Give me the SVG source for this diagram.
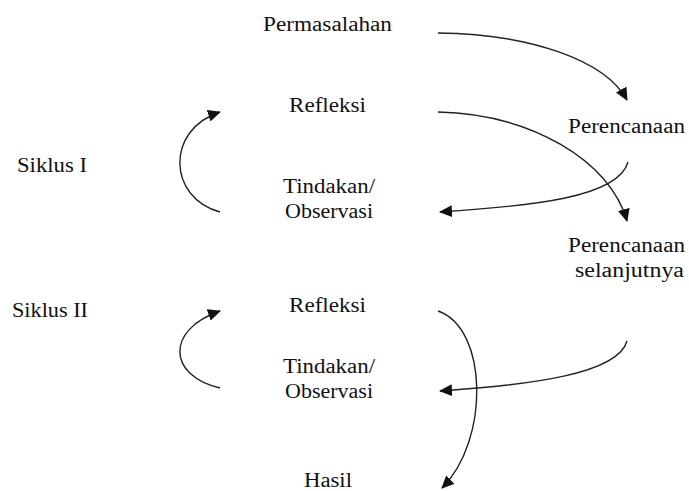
<svg xmlns="http://www.w3.org/2000/svg" width="689" height="491" viewBox="0 0 689 491">
<defs>
<marker id="ah" markerUnits="userSpaceOnUse" markerWidth="14" markerHeight="12" refX="12" refY="6" orient="auto">
<path d="M0,0 L13,6 L0,12 Z" fill="#111"/>
</marker>
<style>
.c{fill:none;stroke:#222;stroke-width:1.4;marker-end:url(#ah);}
</style>
</defs>
<rect width="689" height="491" fill="#fff"/>
<g font-family="Liberation Serif, DejaVu Serif, Times New Roman, serif" font-size="20" fill="#111">
<g id="permasalahan"><text x="263" y="31" textLength="129" lengthAdjust="spacingAndGlyphs">Permasalahan</text></g>
<g id="refleksi1"><text x="289" y="112" textLength="77" lengthAdjust="spacingAndGlyphs">Refleksi</text></g>
<g id="tindakan1"><text x="283" y="193" textLength="92" lengthAdjust="spacingAndGlyphs">Tindakan/</text><text x="285" y="218" textLength="88" lengthAdjust="spacingAndGlyphs">Observasi</text></g>
<g id="perencanaan"><text x="568" y="133" textLength="117" lengthAdjust="spacingAndGlyphs">Perencanaan</text></g>
<g id="perencanaan2"><text x="568" y="252" textLength="117" lengthAdjust="spacingAndGlyphs">Perencanaan</text><text x="575" y="277" textLength="109" lengthAdjust="spacingAndGlyphs">selanjutnya</text></g>
<g id="siklus1"><text x="17" y="172" textLength="70" lengthAdjust="spacingAndGlyphs">Siklus I</text></g>
<g id="siklus2"><text x="12" y="317" textLength="76" lengthAdjust="spacingAndGlyphs">Siklus II</text></g>
<g id="refleksi2"><text x="289" y="312" textLength="77" lengthAdjust="spacingAndGlyphs">Refleksi</text></g>
<g id="tindakan2"><text x="283" y="373" textLength="92" lengthAdjust="spacingAndGlyphs">Tindakan/</text><text x="285" y="398" textLength="88" lengthAdjust="spacingAndGlyphs">Observasi</text></g>
<g id="hasil"><text x="304" y="487" textLength="48" lengthAdjust="spacingAndGlyphs">Hasil</text></g>
</g>
<g id="connectors">
<path class="c" d="M438,33 C530,34 605,60 627,100"/>
<path class="c" d="M438,112 C530,114 610,160 627,221"/>
<path class="c" d="M628,162 C618,198 530,206 440,212"/>
<path class="c" d="M220,212 C168,198 165,130 220,112"/>
<path class="c" d="M220,388 C168,376 165,330 220,311"/>
<path class="c" d="M627,341 C618,374 530,385 440,391"/>
<path class="c" d="M438,311 C488,328 490,440 442,488"/>
</g>
</svg>
